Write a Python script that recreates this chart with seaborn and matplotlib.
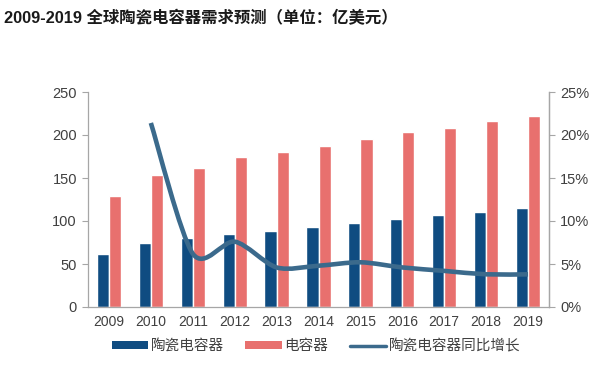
import numpy as np
import pandas as pd
import matplotlib
matplotlib.use("Agg")
import matplotlib.pyplot as plt
import seaborn as sns
from matplotlib.path import Path
from matplotlib.patches import PathPatch, Patch
from matplotlib.lines import Line2D

years = ["2009", "2010", "2011", "2012", "2013", "2014", "2015", "2016", "2017", "2018", "2019"]
ceramic = [62, 74, 80, 85, 88, 93, 98, 102, 107, 111, 115]
capacitor = [129, 153, 162, 174, 180, 187, 195, 204, 208, 216, 222]
growth_years = ["2010", "2011", "2012", "2013", "2014", "2015", "2016", "2017", "2018", "2019"]
growth = [21.4, 6.2, 7.6, 4.6, 4.8, 5.2, 4.6, 4.2, 3.8, 3.8]
series_names = ["陶瓷电容器", "电容器", "陶瓷电容器同比增长"]
title = "2009-2019 全球陶瓷电容器需求预测（单位：亿美元）"

C_NAVY = "#0f4c81"
C_SALMON = "#e8706e"
C_LINE = "#3b6a8c"
TXT = "#404040"
SPINE = "#a6a6a6"

sns.set_theme(style="white")
plt.rcParams["font.family"] = ["Liberation Sans", "Noto Sans CJK SC", "DejaVu Sans"]

df = pd.DataFrame({
    "year": years * 2,
    "value": ceramic + capacitor,
    "series": [series_names[0]] * len(years) + [series_names[1]] * len(years),
})

fig = plt.figure(figsize=(5.92, 3.69), dpi=100)
ax = fig.add_axes([88 / 592, 1 - 307 / 369, (549 - 88) / 592, (307 - 92) / 369])
sns.barplot(data=df, x="year", y="value", hue="series", order=years,
            hue_order=series_names[:2], palette=[C_NAVY, C_SALMON],
            width=0.58, gap=0, saturation=1, ax=ax, legend=False)
ax.set_ylim(0, 250)
ax.set_yticks(range(0, 251, 50))
ax.set_xlim(-0.5, len(years) - 0.5)
ax.set_xlabel("")
ax.set_ylabel("")
ax.set_xticks(range(len(years)))
ax.set_xticklabels(years)
ax.tick_params(axis="x", length=0, pad=6, labelsize=10, colors=TXT)
ax.tick_params(axis="y", length=4, width=0.8, color=SPINE, pad=4, labelsize=10.5, labelcolor=TXT)
ax.set_xticks(np.arange(-0.5, len(years), 1), minor=True)
ax.tick_params(axis="x", which="minor", length=4, width=0.8, color=SPINE, direction="out")
for s in ["left", "bottom", "right"]:
    ax.spines[s].set_visible(True)
    ax.spines[s].set_color(SPINE)
    ax.spines[s].set_linewidth(0.9)
ax.spines["top"].set_visible(False)

ax2 = ax.twinx()
ax2.set_ylim(0, 25)
ax2.set_yticks(range(0, 26, 5))
ax2.set_yticklabels([f"{v}%" for v in range(0, 26, 5)])
ax2.tick_params(axis="y", length=4, width=0.8, color=SPINE, pad=4, labelsize=10.5, labelcolor=TXT)
for s in ["left", "bottom", "top"]:
    ax2.spines[s].set_visible(False)
ax2.spines["right"].set_color(SPINE)
ax2.spines["right"].set_linewidth(0.9)

# smooth line (cardinal spline as cubic Bezier) through the growth points
xs = np.array([years.index(y) for y in growth_years], dtype=float)
ys = np.array(growth, dtype=float)
pts = np.column_stack([xs, ys])
verts = [tuple(pts[0])]
codes = [Path.MOVETO]
n = len(pts)
k = 1 / 7.0
for i in range(n - 1):
    p0 = pts[i - 1] if i > 0 else pts[i]
    p1 = pts[i]
    p2 = pts[i + 1]
    p3 = pts[i + 2] if i + 2 < n else pts[i + 1]
    c1 = p1 + (p2 - p0) * k
    c2 = p2 - (p3 - p1) * k
    verts += [tuple(c1), tuple(c2), tuple(p2)]
    codes += [Path.CURVE4] * 3
ax2.add_patch(PathPatch(Path(verts, codes), facecolor="none", edgecolor=C_LINE,
                        lw=3.3, capstyle="butt", joinstyle="round"))

fig.text(0.006, 1 - 18 / 369, title, fontsize=11.8, fontweight="bold", color="#1a1a1a",
         family=["Liberation Sans", "Noto Sans CJK SC"], va="center", ha="left")

handles = [Patch(facecolor=C_NAVY, edgecolor="none"),
           Patch(facecolor=C_SALMON, edgecolor="none"),
           Line2D([], [], color=C_LINE, lw=2.5)]
fig.legend(handles, series_names, loc="center", bbox_to_anchor=(316 / 592, 1 - 346 / 369),
           ncol=3, frameon=False, fontsize=10.5, handlelength=2.5, handleheight=0.4,
           handletextpad=0.15, columnspacing=1.5, labelcolor=TXT)

fig.savefig("out.png", dpi=100, facecolor="white")
